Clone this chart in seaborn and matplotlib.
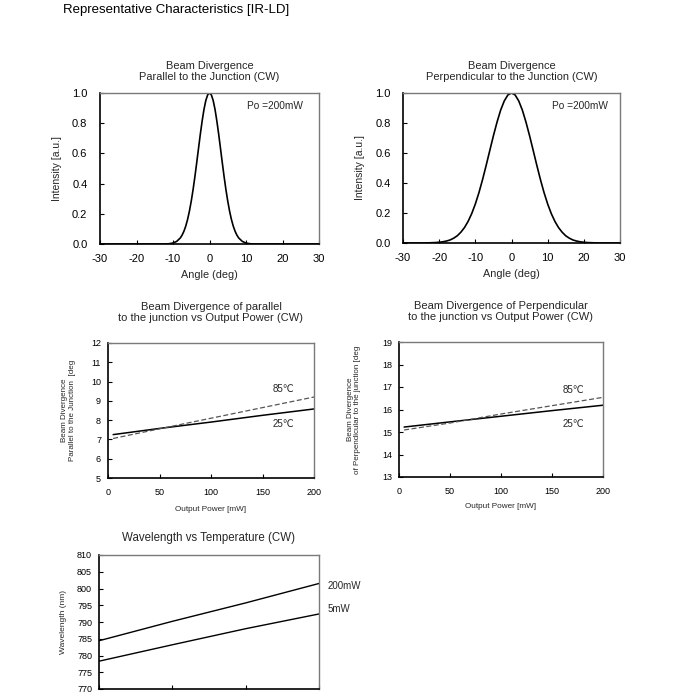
import matplotlib
matplotlib.use("Agg")
import matplotlib.pyplot as plt
import seaborn as sns
import pandas as pd

# ---------------- data ----------------
angle_par = [-30, -12, -11, -10, -9, -8, -7.5, -7, -6.5, -6, -5.5, -5, -4.5, -4, -3.5, -3, -2.5, -2, -1.5, -1, -0.5,
             0, 0.5, 1, 1.5, 2, 2.5, 3, 3.5, 4, 4.5, 5, 5.5, 6, 6.5, 7, 7.5, 8, 9, 10, 11, 12, 30]
int_par = [0.0, 0.0, 0.002, 0.0065, 0.017, 0.040, 0.059, 0.085, 0.119, 0.163, 0.218, 0.284, 0.360, 0.446, 0.539,
           0.635, 0.730, 0.817, 0.893, 0.951, 0.988,
           1.0, 0.988, 0.951, 0.893, 0.817, 0.730, 0.635, 0.539, 0.446, 0.360, 0.284, 0.218, 0.163, 0.119, 0.085,
           0.059, 0.040, 0.017, 0.0065, 0.002, 0.0, 0.0]

angle_perp = [-30, -24, -23, -22, -21, -20, -19, -18, -17, -16, -15, -14, -13, -12, -11, -10, -9, -8, -7, -6, -5,
              -4, -3, -2, -1, 0, 1, 2, 3, 4, 5, 6, 7, 8, 9, 10, 11, 12, 13, 14, 15, 16, 17, 18, 19, 20, 21, 22,
              23, 24, 30]
int_perp = [0.0, 0.0, 0.001, 0.002, 0.003, 0.005, 0.008, 0.013, 0.020, 0.032, 0.048, 0.072, 0.103, 0.144, 0.196,
            0.260, 0.336, 0.423, 0.518, 0.617, 0.715, 0.806, 0.886, 0.947, 0.987, 1.0, 0.987, 0.947, 0.886, 0.806,
            0.715, 0.617, 0.518, 0.423, 0.336, 0.260, 0.196, 0.144, 0.103, 0.072, 0.048, 0.032, 0.020, 0.013,
            0.008, 0.005, 0.003, 0.002, 0.001, 0.0, 0.0]

power = [5, 50, 100, 150, 200]
par_25 = [7.25, 7.57, 7.90, 8.25, 8.58]
par_85 = [7.05, 7.55, 8.10, 8.65, 9.20]
perp_25 = [15.22, 15.45, 15.70, 15.95, 16.19]
perp_85 = [15.09, 15.40, 15.80, 16.17, 16.54]

temperature = [-10, 20, 50, 80]
wl_200mW = [784.4, 790.2, 795.7, 801.5]
wl_5mW = [778.3, 783.2, 788.0, 792.4]

# ---------------- style ----------------
sns.set_theme(style="white")
plt.rcParams["font.family"] = ["Liberation Sans", "DejaVu Sans"]
plt.rcParams["axes.unicode_minus"] = False

fig = plt.figure(figsize=(7.0, 6.95), dpi=100)
W, H = 700, 695


def make_ax(left, right, top, bottom):
    return fig.add_axes([left / W, 1 - bottom / H, (right - left) / W, (bottom - top) / H])


def style(ax, tick_fs, xpad, ypad):
    for s in ["left", "bottom"]:
        ax.spines[s].set_color("black")
        ax.spines[s].set_linewidth(1.2)
    for s in ["top", "right"]:
        ax.spines[s].set_color("#7a7a7a")
        ax.spines[s].set_linewidth(1.0)
    ax.tick_params(axis="both", direction="in", length=3, width=0.8, colors="black",
                   labelsize=tick_fs, left=True, bottom=True)
    ax.tick_params(axis="x", pad=xpad)
    ax.tick_params(axis="y", pad=ypad)
    ax.grid(False)


fig.text(63 / W, 1 - 10 / H, "Representative Characteristics [IR-LD]", ha="left", va="center",
         fontsize=9.5, color="black")

# ---- chart 1: parallel ----
ax1 = make_ax(100, 319, 93, 244)
sns.lineplot(x=angle_par, y=int_par, ax=ax1, color="black", linewidth=1.2, sort=False)
ax1.set_xlim(-30, 30)
ax1.set_ylim(0, 1.0)
ax1.set_xticks([-30, -20, -10, 0, 10, 20, 30])
ax1.set_yticks([0.0, 0.2, 0.4, 0.6, 0.8, 1.0])
ax1.set_yticklabels(["0.0", "0.2", "0.4", "0.6", "0.8", "1.0"])
style(ax1, 8, 7, 9)
ax1.set_title("Beam Divergence\nParallel to the Junction (CW)", fontsize=7.9, pad=9, linespacing=1.15)
ax1.set_xlabel("Angle (deg)", fontsize=7.8)
ax1.set_ylabel("Intensity [a.u.]", fontsize=7.5)
ax1.xaxis.set_label_coords(0.5, -0.172)
ax1.yaxis.set_label_coords(-0.174, 0.5)
ax1.text(0.80, 0.914, "Po =200mW", transform=ax1.transAxes, ha="center", va="center", fontsize=7.3)

# ---- chart 2: perpendicular ----
ax2 = make_ax(403, 620, 93, 243)
sns.lineplot(x=angle_perp, y=int_perp, ax=ax2, color="black", linewidth=1.2, sort=False)
ax2.set_xlim(-30, 30)
ax2.set_ylim(0, 1.0)
ax2.set_xticks([-30, -20, -10, 0, 10, 20, 30])
ax2.set_yticks([0.0, 0.2, 0.4, 0.6, 0.8, 1.0])
ax2.set_yticklabels(["0.0", "0.2", "0.4", "0.6", "0.8", "1.0"])
style(ax2, 8, 7, 9)
ax2.set_title("Beam Divergence\nPerpendicular to the Junction (CW)", fontsize=7.9, pad=9, linespacing=1.15)
ax2.set_xlabel("Angle (deg)", fontsize=7.8)
ax2.set_ylabel("Intensity [a.u.]", fontsize=7.5)
ax2.xaxis.set_label_coords(0.5, -0.173)
ax2.yaxis.set_label_coords(-0.175, 0.5)
ax2.text(0.816, 0.913, "Po =200mW", transform=ax2.transAxes, ha="center", va="center", fontsize=7.3)

# ---- chart 3: parallel vs power ----
ax3 = make_ax(108, 314, 343, 478)
sns.lineplot(x=power, y=par_25, ax=ax3, color="black", linewidth=1.1)
sns.lineplot(x=power, y=par_85, ax=ax3, color="#555555", linewidth=0.9, linestyle=(0, (4, 2)))
ax3.set_xlim(0, 200)
ax3.set_ylim(5, 12)
ax3.set_xticks([0, 50, 100, 150, 200])
ax3.set_yticks(range(5, 13))
style(ax3, 6.5, 7, 5)
ax3.set_title("Beam Divergence of parallel\nto the junction vs Output Power (CW)", fontsize=8, pad=16,
              linespacing=1.15)
ax3.set_xlabel("Output Power [mW]", fontsize=5.9)
ax3.set_ylabel("Beam Divergence\nParallel to the Junction  [deg", fontsize=5.8, linespacing=1.3)
ax3.xaxis.set_label_coords(0.5, -0.207)
ax3.yaxis.set_label_coords(-0.155, 0.5)
ax3.text(170, 9.62, "85℃", ha="center", va="center", fontsize=7)
ax3.text(170, 7.80, "25℃", ha="center", va="center", fontsize=7)

# ---- chart 4: perpendicular vs power ----
ax4 = make_ax(399, 603, 342, 477)
sns.lineplot(x=power, y=perp_25, ax=ax4, color="black", linewidth=1.1)
sns.lineplot(x=power, y=perp_85, ax=ax4, color="#555555", linewidth=0.9, linestyle=(0, (4, 2)))
ax4.set_xlim(0, 200)
ax4.set_ylim(13, 19)
ax4.set_xticks([0, 50, 100, 150, 200])
ax4.set_yticks(range(13, 20))
style(ax4, 6.5, 7, 5)
ax4.set_title("Beam Divergence of Perpendicular\nto the junction vs Output Power (CW)", fontsize=8, pad=16,
              linespacing=1.15)
ax4.set_xlabel("Output Power [mW]", fontsize=5.9)
ax4.set_ylabel("Beam Divergence\nof Perpendicular to the junction [deg", fontsize=5.8, linespacing=1.0)
ax4.xaxis.set_label_coords(0.5, -0.193)
ax4.yaxis.set_label_coords(-0.186, 0.5)
ax4.text(170.6, 16.87, "85℃", ha="center", va="center", fontsize=7)
ax4.text(170.6, 15.36, "25℃", ha="center", va="center", fontsize=7)

# ---- chart 5: wavelength vs temperature ----
ax5 = make_ax(99, 319, 555, 689)
sns.lineplot(x=temperature, y=wl_200mW, ax=ax5, color="black", linewidth=1.0)
sns.lineplot(x=temperature, y=wl_5mW, ax=ax5, color="black", linewidth=1.0)
ax5.set_xlim(temperature[0], temperature[-1])
ax5.set_ylim(770, 810)
ax5.set_xticks(temperature)
ax5.set_yticks(range(770, 811, 5))
style(ax5, 6.5, 7, 5)
ax5.tick_params(axis="x", labelbottom=False)
ax5.set_title("Wavelength vs Temperature (CW)", fontsize=8.3, pad=10)
ax5.set_ylabel("Wavelength (nm)", fontsize=6)
ax5.yaxis.set_label_coords(-0.145, 0.5)
ax5.text(1.04, 0.768, "200mW", transform=ax5.transAxes, ha="left", va="center", fontsize=7)
ax5.text(1.04, 0.594, "5mW", transform=ax5.transAxes, ha="left", va="center", fontsize=7)

fig.savefig("out.png", dpi=100)
